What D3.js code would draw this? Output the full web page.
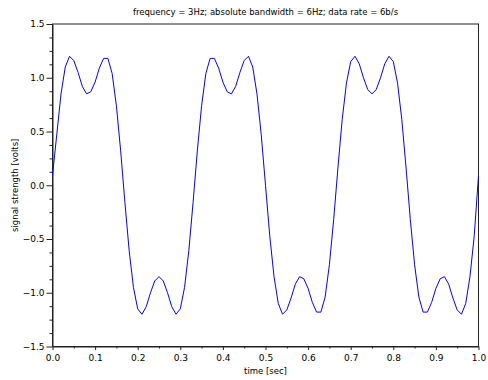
<!DOCTYPE html>
<html>
<head>
<meta charset="utf-8">
<script src="https://cdn.jsdelivr.net/npm/d3@7"></script>
<style>
  body { margin: 0; background: #fff; }
  text { font-family: "DejaVu Sans", sans-serif; fill: #000; }
</style>
</head>
<body>
<div id="chart"></div>
<script>
// time axis [sec], sampled every 0.01 s
const timeValues = [
  0.00, 0.01, 0.02, 0.03, 0.04, 0.05, 0.06, 0.07, 0.08, 0.09,
  0.10, 0.11, 0.12, 0.13, 0.14, 0.15, 0.16, 0.17, 0.18, 0.19,
  0.20, 0.21, 0.22, 0.23, 0.24, 0.25, 0.26, 0.27, 0.28, 0.29,
  0.30, 0.31, 0.32, 0.33, 0.34, 0.35, 0.36, 0.37, 0.38, 0.39,
  0.40, 0.41, 0.42, 0.43, 0.44, 0.45, 0.46, 0.47, 0.48, 0.49,
  0.50, 0.51, 0.52, 0.53, 0.54, 0.55, 0.56, 0.57, 0.58, 0.59,
  0.60, 0.61, 0.62, 0.63, 0.64, 0.65, 0.66, 0.67, 0.68, 0.69,
  0.70, 0.71, 0.72, 0.73, 0.74, 0.75, 0.76, 0.77, 0.78, 0.79,
  0.80, 0.81, 0.82, 0.83, 0.84, 0.85, 0.86, 0.87, 0.88, 0.89,
  0.90, 0.91, 0.92, 0.93, 0.94, 0.95, 0.96, 0.97, 0.98, 0.99,
  1.00
];

// signal strength [volts]
const signalValues = [
   0.09,  0.47,  0.85,  1.10,  1.20,  1.16,  1.05,  0.92,  0.85,  0.87,
   0.96,  1.09,  1.18,  1.18,  1.04,  0.74,  0.32, -0.16, -0.61, -0.95,
  -1.15, -1.20, -1.13, -1.00, -0.89, -0.85, -0.89, -1.00, -1.13, -1.20,
  -1.15, -0.95, -0.61, -0.16,  0.32,  0.74,  1.04,  1.18,  1.18,  1.09,
   0.96,  0.87,  0.85,  0.92,  1.05,  1.16,  1.20,  1.10,  0.85,  0.47,
   0.00, -0.47, -0.85, -1.10, -1.20, -1.16, -1.05, -0.92, -0.85, -0.87,
  -0.96, -1.09, -1.18, -1.18, -1.04, -0.74, -0.32,  0.16,  0.61,  0.95,
   1.15,  1.20,  1.13,  1.00,  0.89,  0.85,  0.89,  1.00,  1.13,  1.20,
   1.15,  0.95,  0.61,  0.16, -0.32, -0.74, -1.04, -1.18, -1.18, -1.09,
  -0.96, -0.87, -0.85, -0.92, -1.05, -1.16, -1.20, -1.10, -0.85, -0.47,
   0.09
];

const xTicks = [0, 0.1, 0.2, 0.3, 0.4, 0.5, 0.6, 0.7, 0.8, 0.9, 1.0];
const yTicks = [-1.5, -1.0, -0.5, 0.0, 0.5, 1.0, 1.5];

const titleText = "frequency = 3Hz; absolute bandwidth = 6Hz; data rate = 6b/s";
const xLabel = "time [sec]";
const yLabel = "signal strength [volts]";

const width = 488, height = 380;
const margin = { top: 24, left: 52.5, bottom: 33.5, right: 9.5 };
const innerW = width - margin.left - margin.right,
      innerH = height - margin.top - margin.bottom;

const svg = d3.select("#chart").append("svg")
  .attr("width", width)
  .attr("height", height);

const g = svg.append("g")
  .attr("transform", `translate(${margin.left}, ${margin.top})`);

const xScale = d3.scaleLinear().domain([0, 1]).range([0, innerW]);
const yScale = d3.scaleLinear().domain([-1.5, 1.5]).range([innerH, 0]);

// frame (top + right)
g.append("rect")
  .attr("x", 0).attr("y", 0)
  .attr("width", innerW).attr("height", innerH)
  .attr("fill", "none")
  .attr("stroke", "#222")
  .attr("stroke-width", 1);

// minor ticks
const xMinor = d3.range(0, 20).map(i => i * 0.05 + 0.05).filter((d, i) => i % 2 === 0);
const yMinor = d3.range(-1.5, 1.5, 0.125).filter(d => Math.abs(d * 2 - Math.round(d * 2)) > 1e-6);

g.append("g")
  .attr("transform", `translate(0, ${innerH})`)
  .call(d3.axisBottom(xScale).tickValues(xMinor).tickSize(2).tickFormat(""))
  .call(a => a.select(".domain").remove());

g.append("g")
  .call(d3.axisLeft(yScale).tickValues(yMinor).tickSize(3).tickFormat(""))
  .call(a => a.select(".domain").remove());

const xAxis = g.append("g")
  .attr("transform", `translate(0, ${innerH})`)
  .call(d3.axisBottom(xScale).tickValues(xTicks).tickSize(3.5).tickPadding(5)
    .tickSizeOuter(0).tickFormat(d3.format(".1f")));

const yAxis = g.append("g")
  .call(d3.axisLeft(yScale).tickValues(yTicks).tickSize(6).tickPadding(2)
    .tickSizeOuter(0).tickFormat(d3.format(".1f")));

[xAxis, yAxis].forEach(ax => {
  ax.selectAll("text").style("font-size", "9px").attr("fill", "#000");
  ax.selectAll("line").attr("stroke", "#222");
  ax.select(".domain").attr("stroke", "#222");
});
g.selectAll(".tick line").attr("stroke", "#222");

// signal line
const line = d3.line()
  .x((d, i) => xScale(timeValues[i]))
  .y(d => yScale(d));

g.append("path")
  .datum(signalValues)
  .attr("fill", "none")
  .attr("stroke", "#0000ff")
  .attr("stroke-width", 1)
  .attr("d", line);

// texts
svg.append("text")
  .attr("x", margin.left + innerW / 2)
  .attr("y", 14.5)
  .attr("text-anchor", "middle")
  .style("font-size", "8.5px")
  .text(titleText);

svg.append("text")
  .attr("x", margin.left + innerW / 2)
  .attr("y", 373.5)
  .attr("text-anchor", "middle")
  .style("font-size", "8.5px")
  .text(xLabel);

svg.append("text")
  .attr("transform", `translate(18, ${margin.top + innerH / 2}) rotate(-90)`)
  .attr("text-anchor", "middle")
  .style("font-size", "8.5px")
  .text(yLabel);
</script>
</body>
</html>
